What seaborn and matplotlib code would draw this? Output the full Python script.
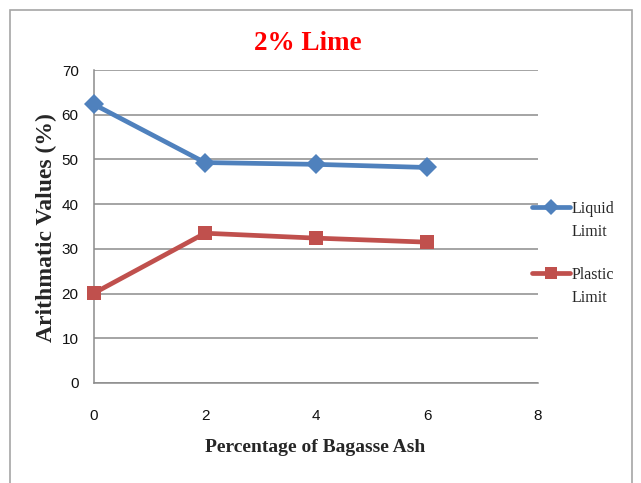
import matplotlib
matplotlib.use("Agg")
import matplotlib.pyplot as plt
from matplotlib.patches import Rectangle
import seaborn as sns
import pandas as pd

bagasse_ash = [0, 2, 4, 6]
liquid_limit = [62.3, 49.3, 48.9, 48.2]
plastic_limit = [20.1, 33.5, 32.4, 31.5]
series_names = ["Liquid Limit", "Plastic Limit"]
x_ticks = [0, 2, 4, 6, 8]
y_ticks = [0, 10, 20, 30, 40, 50, 60, 70]

df = pd.DataFrame({
    "ash": bagasse_ash * 2,
    "value": liquid_limit + plastic_limit,
    "series": [series_names[0]] * len(bagasse_ash) + [series_names[1]] * len(bagasse_ash),
})

sns.set_style("white")
plt.rcParams["font.family"] = ["Liberation Sans", "DejaVu Sans"]

fig = plt.figure(figsize=(6.41, 4.83), dpi=100)
W, H = 641, 483
ax = fig.add_axes([94 / W, 1 - 383 / H, (538 - 94) / W, (383 - 70) / H])

# outer chart frame
fig.patches.append(Rectangle((10 / W, -0.05), (632 - 10) / W, 1.05 - 10 / H,
                             transform=fig.transFigure, fill=False,
                             edgecolor="#a6a6a6", linewidth=1.2))

palette = {series_names[0]: "#4F81BD", series_names[1]: "#C0504D"}
markers = {series_names[0]: "D", series_names[1]: "s"}
for name in series_names:
    sub = df[df["series"] == name]
    sns.lineplot(data=sub, x="ash", y="value", color=palette[name],
                 marker=markers[name], linewidth=3.4, markersize=10,
                 markeredgewidth=0, ax=ax, legend=False, clip_on=False, zorder=3)

ax.set_xlim(0, 8)
ax.set_ylim(0, 70)
ax.set_xticks(x_ticks)
ax.set_yticks(y_ticks)
ax.yaxis.grid(True, color="#8c8c8c", linewidth=1.1)
ax.set_axisbelow(True)
for s in ["top", "right"]:
    ax.spines[s].set_visible(False)
for s in ["left", "bottom"]:
    ax.spines[s].set_color("#8c8c8c")
    ax.spines[s].set_linewidth(1.1)
ax.tick_params(axis="both", length=5, width=1, color="#8c8c8c", direction="out",
               labelsize=11, labelcolor="#111111", pad=6)
ax.tick_params(axis="x", pad=14)

ax.set_xlabel("Percentage of Bagasse Ash", family="Liberation Serif",
              fontweight="bold", fontsize=14)
ax.set_ylabel("Arithmatic Values (%)", family="Liberation Serif",
              fontweight="bold", fontsize=17)
ax.xaxis.set_label_coords((315 - 94) / 444, (383 - 447) / 313)
ax.yaxis.set_label_coords((46 - 94) / 444, (383 - 228) / 313)
for lab in (ax.xaxis.label, ax.yaxis.label):
    lab.set_va("center")
fig.text(308 / W, 1 - 43 / H, "2% Lime", family="Liberation Serif",
         fontweight="bold", fontsize=19.5, color="#ff0000", ha="center", va="center")

# legend: series name split over two lines, marker beside the first line
blank = plt.Line2D([], [], linestyle="none")
handles = [
    plt.Line2D([], [], color=palette[series_names[0]], marker="D", linewidth=3.4,
               markersize=8, markeredgewidth=0),
    blank, blank,
    plt.Line2D([], [], color=palette[series_names[1]], marker="s", linewidth=3.4,
               markersize=9, markeredgewidth=0),
    blank,
]
labels = ["Liquid", "Limit", " ", "Plastic", "Limit"]
leg = fig.legend(handles, labels, loc="upper left",
                 bbox_to_anchor=(532 / W, 1 - 201 / H), frameon=False,
                 prop={"family": "Liberation Serif", "size": 11.5},
                 handlelength=2.4, handletextpad=0.1, labelspacing=0.45,
                 borderpad=0, borderaxespad=0)
leg.get_texts()[2].set_fontsize(5)

fig.savefig("out.png", dpi=100)
